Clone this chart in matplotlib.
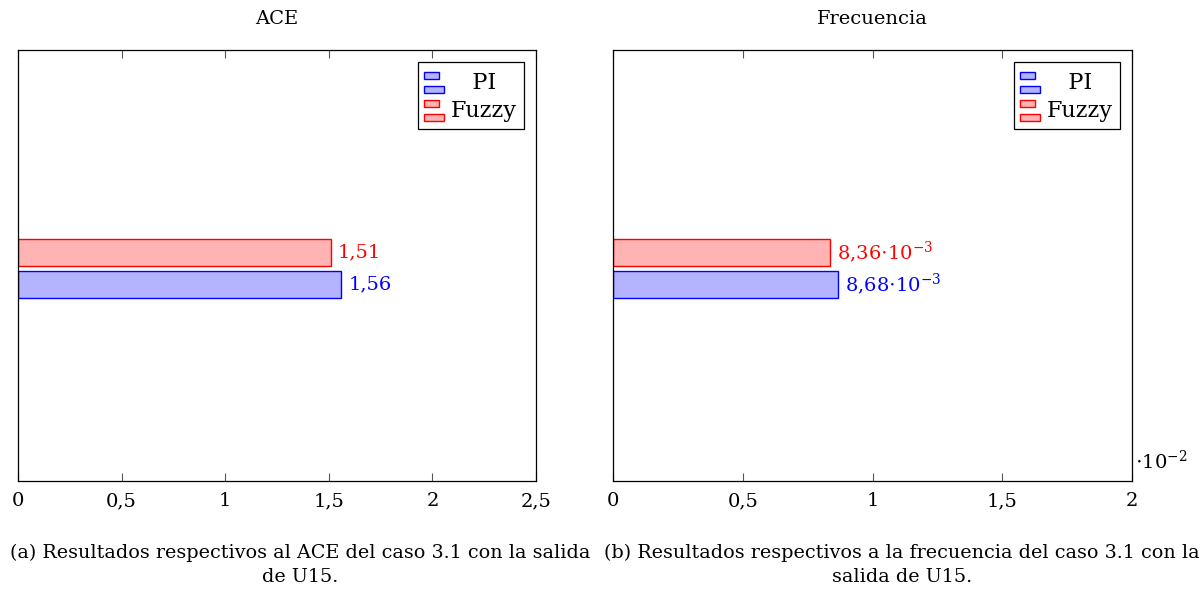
import matplotlib
matplotlib.use("Agg")
import matplotlib.pyplot as plt
from matplotlib.patches import Rectangle
from matplotlib.legend_handler import HandlerBase
from matplotlib.ticker import FixedLocator, FuncFormatter

plt.rcParams["font.family"] = ["DejaVu Serif"]
plt.rcParams["mathtext.fontset"] = "dejavuserif"
plt.rcParams["font.size"] = 12

# data
series = ["PI", "Fuzzy"]
ace_values = [1.56, 1.51]
freq_values = [8.68e-3, 8.36e-3]
ace_labels = ["1,56", "1,51"]
freq_labels = [r"8,68$\cdot$10$^{-3}$", r"8,36$\cdot$10$^{-3}$"]
ace_ticks = [0, 0.5, 1, 1.5, 2, 2.5]
freq_ticks = [0, 0.005, 0.01, 0.015, 0.02]

fills = ["#b3b3ff", "#ffb3b3"]
edges = ["#0000ff", "#ff0000"]
offsets = [-0.075, 0.075]
bar_h = 0.125


class TwoBars(HandlerBase):
    # pgfplots-style bar legend: two little bars stacked
    def create_artists(self, legend, orig, xd, yd, w, h, fontsize, trans):
        fc = orig.get_facecolor()
        ec = orig.get_edgecolor()
        bh = h * 0.27
        r1 = Rectangle((-xd, -yd + h * 0.62), w * 0.72, bh, facecolor=fc,
                       edgecolor=ec, lw=1, transform=trans)
        r2 = Rectangle((-xd, -yd + h * 0.06), w * 1.0, bh, facecolor=fc,
                       edgecolor=ec, lw=1, transform=trans)
        return [r1, r2]


def comma(v, scale=1.0):
    s = f"{v / scale:g}"
    return s.replace(".", ",")


fig = plt.figure(figsize=(12.04, 5.93), dpi=100)
ax1 = fig.add_axes([18 / 1204, 112 / 593, 518 / 1204, 431 / 593])
ax2 = fig.add_axes([613 / 1204, 112 / 593, 519 / 1204, 431 / 593])

panels = [
    (ax1, ace_values, ace_labels, ace_ticks, "ACE", 1.0),
    (ax2, freq_values, freq_labels, freq_ticks, "Frecuencia", 0.01),
]

for ax, vals, labs, ticks, title, scale in panels:
    handles = []
    for i, name in enumerate(series):
        bc = ax.barh([offsets[i]], [vals[i]], height=bar_h, color=fills[i],
                     edgecolor=edges[i], linewidth=1, label=name)
        ax.bar_label(bc, labels=[labs[i]], padding=5, color=edges[i],
                     fontsize=14)
        handles.append(bc.patches[0])
    ax.set_xlim(ticks[0], ticks[-1])
    ax.set_ylim(-0.986, 1.014)
    ax.set_yticks([])
    ax.xaxis.set_major_locator(FixedLocator(ticks))
    ax.xaxis.set_major_formatter(FuncFormatter(lambda v, p, s=scale: comma(v, s)))
    ax.tick_params(axis="x", direction="in", top=True, length=6,
                   color="#555555", labelsize=14, pad=8)
    for sp in ax.spines.values():
        sp.set_linewidth(0.9)
    ax.set_title(title, fontsize=14, pad=19)
    # centre the short label like the pgfplots legend does
    leg = ax.legend(handles, ["   " + series[0], series[1]], loc="upper right",
                    fontsize=16, handler_map={Rectangle: TwoBars()},
                    handlelength=0.9, handleheight=1.4, handletextpad=0.3,
                    labelspacing=0.1, borderpad=0.3, fancybox=False,
                    edgecolor="black", framealpha=1, borderaxespad=0.55)
    leg.get_frame().set_linewidth(0.9)

ax2.text(1.005, 0.02, r"$\cdot$10$^{-2}$", transform=ax2.transAxes,
         fontsize=14, ha="left", va="bottom")

fig.text(0.249, 1 - 565 / 593,
         "(a) Resultados respectivos al ACE del caso 3.1 con la salida\nde U15.",
         ha="center", va="center", fontsize=13.8, linespacing=1.42)
fig.text(0.749, 1 - 565 / 593,
         "(b) Resultados respectivos a la frecuencia del caso 3.1 con la\nsalida de U15.",
         ha="center", va="center", fontsize=13.8, linespacing=1.42)

fig.savefig("out.png", dpi=100)
